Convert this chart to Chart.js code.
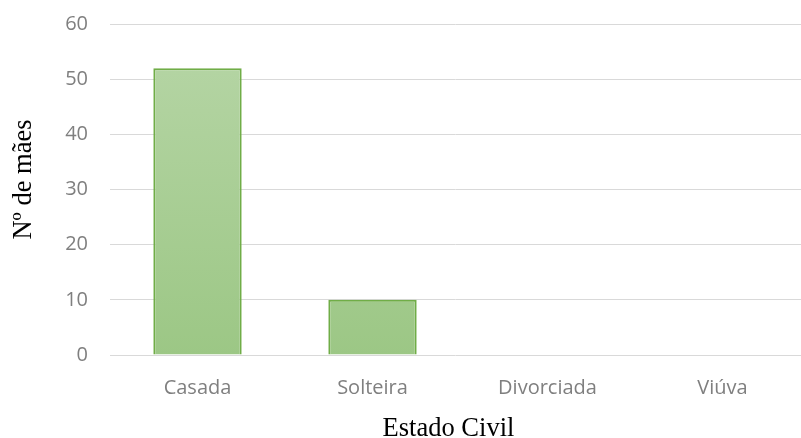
<!DOCTYPE html>
<html><head><meta charset="utf-8">
<script src="https://cdn.jsdelivr.net/npm/chart.js@4/dist/chart.umd.min.js"></script>
<style>html,body{margin:0;padding:0;background:#fff}#wrap{width:801px;height:438px}</style>
</head><body><div id="wrap"><canvas id="c" width="801" height="438"></canvas></div>
<script>
const categories = ["Casada", "Solteira", "Divorciada", "Viúva"];
const values = [52, 10, 0, 0];
const yTicks = [0, 10, 20, 30, 40, 50, 60];
const xTitle = "Estado Civil";
const yTitle = "Nº de mães";

function grad(ctx) {
  const ch = ctx.chart, a = ch.chartArea;
  if (!a) return '#a8cf94';
  const g = ch.ctx.createLinearGradient(0, a.top, 0, a.bottom);
  g.addColorStop(0, '#b7d6a7');
  g.addColorStop(1, '#9cc785');
  return g;
}

const CATEGORY_WIDTH = 175;

const widenPlugin = {
  id: 'widenX',
  afterLayout(chart) {
    const x = chart.scales.x;
    x.right = x.left + CATEGORY_WIDTH * categories.length;
    x.width = x.right - x.left;
    x.configure();
  }
};

const titlesPlugin = {
  id: 'axisTitles',
  afterDraw(chart) {
    const c = chart.ctx;
    c.save();
    c.font = '26.5px "Liberation Serif"';
    c.fillStyle = '#000';
    c.textAlign = 'center';
    c.textBaseline = 'alphabetic';
    c.fillText(xTitle, 448.5, 436);
    c.translate(31, 179.5);
    c.rotate(-Math.PI / 2);
    c.fillText(yTitle, 0, 0);
    c.restore();
  }
};

new Chart(document.getElementById('c'), {
  type: 'bar',
  data: { labels: categories, datasets: [{ data: values, backgroundColor: grad, borderColor: '#70ad47', borderWidth: 2, borderSkipped: 'bottom', barPercentage: 1, categoryPercentage: 0.505 }] },
  options: {
    responsive: false, animation: false,
    layout: { padding: { left: 0, right: 0, top: 24, bottom: 0 } },
    plugins: { legend: { display: false }, tooltip: { enabled: false } },
    scales: {
      x: {
        grid: { display: false, drawTicks: false },
        border: { display: false },
        ticks: { color: '#7f7f7f', font: { family: 'Open Sans', size: 20 }, padding: 21 },
        afterFit: s => { s.height = 83; s.paddingLeft = 0; s.paddingRight = 0; }
      },
      y: {
        min: 0, max: 60,
        afterBuildTicks: s => { s.ticks = yTicks.map(v => ({ value: v })); },
        grid: { color: '#d9d9d9', lineWidth: 1, drawTicks: false },
        border: { display: false },
        ticks: { color: '#7f7f7f', font: { family: 'Open Sans', size: 20 }, padding: 22 },
        afterFit: s => { s.width = 110; s.paddingTop = 0; s.paddingBottom = 0; }
      }
    }
  },
  plugins: [widenPlugin, titlesPlugin]
});
</script></body></html>
